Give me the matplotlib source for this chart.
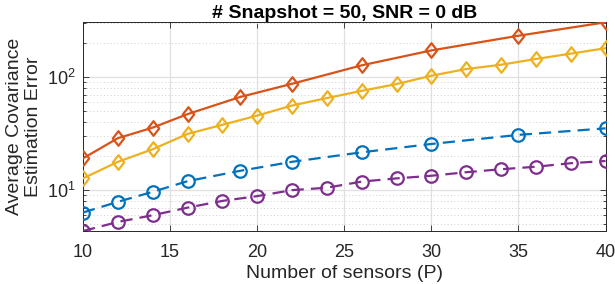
import numpy as np
import matplotlib
matplotlib.use("Agg")
import matplotlib.pyplot as plt
from matplotlib.path import Path
from matplotlib.ticker import FixedLocator, LogLocator, NullFormatter

plt.rcParams['font.family'] = ['Liberation Sans', 'DejaVu Sans']
plt.rcParams['mathtext.fontset'] = 'custom'
plt.rcParams['mathtext.rm'] = 'Liberation Sans'
plt.rcParams['mathtext.it'] = 'Liberation Sans:italic'
plt.rcParams['mathtext.bf'] = 'Liberation Sans:bold'

# ---- data ----
x_sparse = [10, 12, 14, 16, 19, 22, 26, 30, 35, 40]
x_dense = [10, 12, 14, 16, 18, 20, 22, 24, 26, 28, 30, 32, 34, 36, 38, 40]

red_vals = [19.1, 28.8, 35.7, 47.0, 66.5, 87.2, 127, 172, 232, 305]
yellow_vals = [12.7, 17.8, 23.0, 31.4, 37.8, 45.6, 56.0, 65.2, 75.5, 86.7,
               102.7, 117.8, 128.5, 144.5, 161, 180]
blue_vals = [6.34, 7.88, 9.66, 12.0, 14.8, 17.8, 21.6, 25.6, 30.8, 35.2]
purple_vals = [4.35, 5.23, 6.0, 7.0, 8.03, 8.85, 10.0, 10.5, 11.9, 12.7,
               13.4, 14.4, 15.3, 16.1, 17.3, 18.1]

xticks = [10, 15, 20, 25, 30, 35, 40]
title = "# Snapshot = 50, SNR = 0 dB"
xlabel = "Number of sensors (P)"
ylabel = "Average Covariance\nEstimation Error"

c_blue = '#0072BD'
c_red = '#D95319'
c_yellow = '#EDB120'
c_purple = '#7E2F8E'

diamond = Path([(0, 1), (0.78, 0), (0, -1), (-0.78, 0), (0, 1)],
               [Path.MOVETO, Path.LINETO, Path.LINETO, Path.LINETO, Path.CLOSEPOLY])

fig = plt.figure(figsize=(6.15, 2.84), dpi=100)
ax = fig.add_axes([0.135, 0.1866, 0.8496, 0.7349])

msd = 10.5
msc = 9.0
mew = 1.6
lw = 1.6
dash = (5.5, 3.2)
ax.plot(x_sparse, red_vals, '-', color=c_red, marker=diamond, ms=msd, mfc='none', mew=mew, lw=lw, zorder=3)
ax.plot(x_dense, yellow_vals, '-', color=c_yellow, marker=diamond, ms=msd, mfc='none', mew=mew, lw=lw, zorder=3)
ax.plot(x_sparse, blue_vals, '--', color=c_blue, marker='o', ms=msc, mfc='none', mew=mew, lw=lw, dashes=dash, zorder=3)
ax.plot(x_dense, purple_vals, '--', color=c_purple, marker='o', ms=msc, mfc='none', mew=mew, lw=lw, dashes=dash, zorder=3)

ax.set_yscale('log')
ax.set_xlim(10, 40)
allv = red_vals + yellow_vals + blue_vals + purple_vals
ax.set_ylim(min(allv), max(allv))

ax.xaxis.set_major_locator(FixedLocator(xticks))
ax.yaxis.set_major_locator(LogLocator(base=10, numticks=10))
ax.yaxis.set_minor_locator(LogLocator(base=10, subs=np.arange(2, 10), numticks=10))
ax.yaxis.set_minor_formatter(NullFormatter())

ax.grid(True, which='major', color='#e0e0e0', lw=0.9, ls='-', zorder=0)
ax.grid(True, which='minor', axis='y', color='#cfcfcf', lw=0.7, ls=(0, (1, 2.5)), zorder=0)
ax.set_axisbelow(True)

for s in ax.spines.values():
    s.set_color('#262626')
    s.set_linewidth(0.7)
ax.tick_params(which='both', direction='in', top=True, right=True, colors='#262626',
               labelsize=13, width=0.6)
ax.tick_params(which='major', length=4)
ax.tick_params(which='minor', length=2.5)
ax.tick_params(axis='x', pad=9)
ax.tick_params(axis='y', pad=5)

ax.set_title(title, fontsize=14, fontweight='bold', pad=2, color='black')
ax.set_xlabel(xlabel, fontsize=14, labelpad=3, color='#262626')
ax.set_ylabel(ylabel, fontsize=14, labelpad=4, color='#262626', linespacing=1.15)

fig.savefig('out.png', dpi=100)
